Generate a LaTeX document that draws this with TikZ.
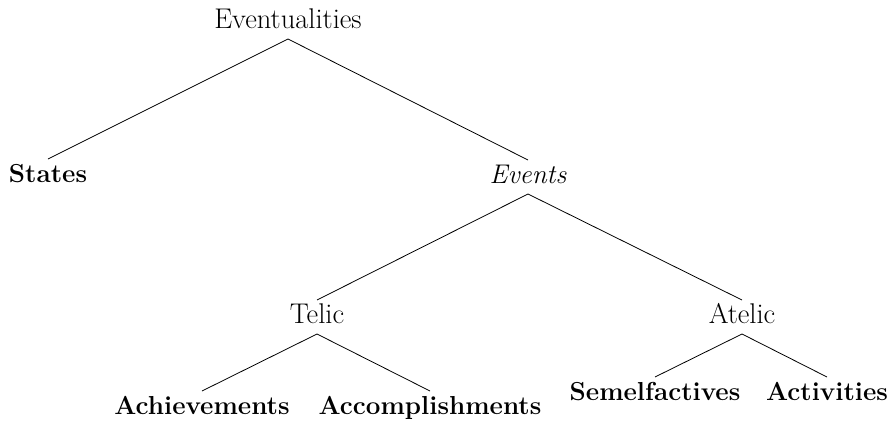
\documentclass[tikz,border=0pt]{standalone}
\usepackage{fontspec}
\begin{document}
\begin{tikzpicture}[x=1pt,y=-1pt,
  lbl/.style={anchor=base,inner sep=0pt,outer sep=0pt,text height=23pt,text depth=11pt,
    font=\fontsize{28.5}{32}\selectfont},
  emph/.style={lbl,font=\fontsize{27}{32}\selectfont\itshape},
  leaf/.style={lbl,font=\fontsize{26}{30}\selectfont\bfseries},
  edge/.style={line width=0.8pt,black}]
\useasboundingbox (0,0) rectangle (891,421);
\node[lbl]  (ev)   at (288,28)  {Eventualities};
\node[leaf] (st)   at (48,182)  {States};
\node[emph] (evs)  at (528,183) {Events};
\node[lbl]  (tel)  at (317,323) {Telic};
\node[lbl]  (atel) at (742,323) {Atelic};
\node[leaf] (ach)  at (202,414) {Achievements};
\node[leaf] (acc)  at (430,414) {Accomplishments};
\node[leaf] (sem)  at (655,400) {Semelfactives};
\node[leaf] (act)  at (827,400) {Activities};
\draw[edge] (ev.south) -- (st.north);
\draw[edge] (ev.south) -- (evs.north);
\draw[edge] (evs.south) -- (tel.north);
\draw[edge] (evs.south) -- (atel.north);
\draw[edge] (tel.south) -- (ach.north);
\draw[edge] (tel.south) -- (acc.north);
\draw[edge] (atel.south) -- (sem.north);
\draw[edge] (atel.south) -- (act.north);
\end{tikzpicture}
\end{document}
